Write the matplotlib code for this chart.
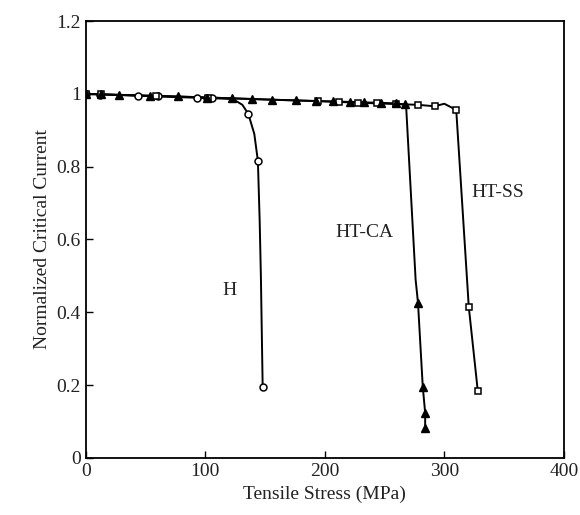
import matplotlib
matplotlib.use("Agg")
import matplotlib.pyplot as plt

plt.rcParams['font.family'] = ['Liberation Serif', 'DejaVu Serif']

# H (open circles)
h_mx = [0, 12, 44, 60, 93, 101, 106, 136, 144, 148]
h_my = [1.0, 0.998, 0.995, 0.993, 0.99, 0.99, 0.988, 0.945, 0.816, 0.195]
h_lx = [0, 60, 106, 123, 131, 136, 141, 144, 145.5, 146.5, 148]
h_ly = [1.0, 0.993, 0.988, 0.986, 0.97, 0.945, 0.89, 0.816, 0.65, 0.5, 0.195]

# HT-CA (filled triangles)
ca_mx = [0, 13, 28, 54, 77, 101, 122, 139, 156, 176, 193, 207, 221, 233, 247, 260, 267, 278, 282, 284, 284]
ca_my = [1.0, 1.0, 0.997, 0.995, 0.993, 0.99, 0.988, 0.986, 0.984, 0.983, 0.981, 0.98, 0.978, 0.977, 0.976, 0.974, 0.972, 0.426, 0.195, 0.124, 0.082]
ca_lx = [0, 77, 156, 221, 260, 268, 276, 278, 282, 284, 284]
ca_ly = [1.0, 0.993, 0.984, 0.978, 0.974, 0.97, 0.49, 0.426, 0.195, 0.124, 0.082]

# HT-SS (open squares)
ss_mx = [0, 13, 59, 102, 194, 212, 228, 244, 260, 278, 292, 310, 320.5, 328]
ss_my = [1.0, 1.0, 0.995, 0.99, 0.98, 0.978, 0.976, 0.974, 0.972, 0.97, 0.966, 0.956, 0.415, 0.185]
ss_lx = [0, 102, 194, 260, 278, 292, 300, 310, 320.5, 328]
ss_ly = [1.0, 0.99, 0.98, 0.972, 0.97, 0.966, 0.973, 0.956, 0.415, 0.185]

xticks = [0, 100, 200, 300, 400]
yticks = [0, 0.2, 0.4, 0.6, 0.8, 1.0, 1.2]
ytick_labels = ['0', '0.2', '0.4', '0.6', '0.8', '1', '1.2']

fig = plt.figure(figsize=(5.8, 5.15), dpi=100)
ax = fig.add_axes([0.148, 0.111, 0.824, 0.848])

lw = 1.4
ax.plot(h_lx, h_ly, color='black', lw=lw, zorder=2)
ax.plot(ca_lx, ca_ly, color='black', lw=lw, zorder=2)
ax.plot(ss_lx, ss_ly, color='black', lw=lw, zorder=2)

ax.plot(h_mx, h_my, linestyle='none', marker='o', ms=5, mfc='white', mec='black', mew=1.1, zorder=3)
ax.plot(ss_mx, ss_my, linestyle='none', marker='s', ms=5, mfc='white', mec='black', mew=1.1, zorder=3)
ax.plot(ca_mx, ca_my, linestyle='none', marker='^', ms=5.5, mfc='black', mec='black', zorder=4)

ax.text(120, 0.46, 'H', fontsize=14, ha='center', va='center', color='#222222')
ax.text(233, 0.62, 'HT-CA', fontsize=14, ha='center', va='center', color='#222222')
ax.text(345, 0.73, 'HT-SS', fontsize=14, ha='center', va='center', color='#222222')

ax.set_xlim(0, 400)
ax.set_ylim(0, 1.2)
ax.set_xticks(xticks)
ax.set_yticks(yticks)
ax.set_yticklabels(ytick_labels)
ax.tick_params(direction='in', length=5, width=1, labelsize=14, top=False, right=False,
               labelcolor='#222222')
for s in ax.spines.values():
    s.set_linewidth(1.3)

ax.set_xlabel('Tensile Stress (MPa)', fontsize=14, color='#222222')
ax.set_ylabel('Normalized Critical Current', fontsize=14, color='#222222')

fig.savefig('out.png', dpi=100)
